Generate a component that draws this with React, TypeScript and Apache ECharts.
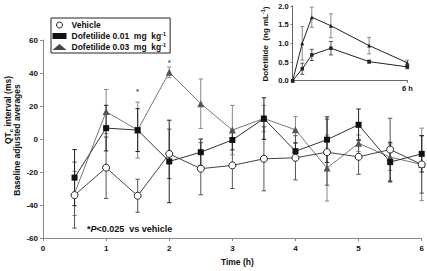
import React, { useEffect, useRef } from 'react';
import * as echarts from 'echarts';

const FONT = '"Liberation Sans", Arial, sans-serif';

// Main chart data (QTc baseline adjusted averages, ms)
const times = [0.5, 1, 1.5, 2, 2.5, 3, 3.5, 4, 4.5, 5, 5.5, 6];
const vehicle = [-34, -17.4, -34.4, -9, -18, -16, -12, -11.4, -8, -10.8, -6.4, -15.4];
const vehicleErr = [20, 18.6, 10, 15, 15.8, 14, 19.4, 13.4, 20, 10.6, 19, 17.4];
const dof001 = [-23.4, 6.6, 5.4, -13.6, -8, -0.6, 12.4, -7.4, -0.4, 8.6, -14, -9];
const dof001Err = [17, 13.8, 13, 25, 8, 6, 12.6, 5, 13.8, 9.6, 12, 11];
const dof003 = [-33, 16.6, 5.4, 40.4, 21.4, 5.4, 12.4, 5.6, -17.6, -2.6, -11, -15.4];
const dof003Err = [13.4, 13.4, 17, 3.2, 15, 15, 8, 8, 20, 5, 8, 22];
const starTimes = [1.5, 2];
const starValues = [30, 47.6];

// Inset data (plasma dofetilide, ng/mL)
const insetTimes = [0, 0.5, 1, 2, 4, 6];
const insetLow = [0, 0.32, 0.69, 0.87, 0.51, 0.37];
const insetLowErr = [0, 0.15, 0.15, 0.18, 0.04, 0.05];
const insetHigh = [0, 1.0, 1.7, 1.47, 0.94, 0.48];
const insetHighErr = [0, 0.45, 0.27, 0.32, 0.22, 0.07];

const pairs = (xs: number[], ys: number[]) => xs.map((x, i) => [x, ys[i]]);
const errData = (xs: number[], ys: number[], es: number[]) =>
  xs.map((x, i) => [x, ys[i] - es[i], ys[i] + es[i]]);

const errRender = (color: string, cap: number) => (params: any, api: any) => {
  const x = api.value(0);
  const lo = api.value(1);
  const hi = api.value(2);
  if (lo === hi) return { type: 'group', children: [] };
  const p1 = api.coord([x, lo]);
  const p2 = api.coord([x, hi]);
  const st = { stroke: color, lineWidth: 1 };
  return {
    type: 'group',
    children: [
      { type: 'line', shape: { x1: p1[0], y1: p1[1], x2: p2[0], y2: p2[1] }, style: st },
      { type: 'line', shape: { x1: p1[0] - cap, y1: p1[1], x2: p1[0] + cap, y2: p1[1] }, style: st },
      { type: 'line', shape: { x1: p2[0] - cap, y1: p2[1], x2: p2[0] + cap, y2: p2[1] }, style: st },
    ],
  };
};

const errSeries = (data: number[][], color: string, cap: number, axis: number) => ({
  type: 'custom',
  xAxisIndex: axis,
  yAxisIndex: axis,
  renderItem: errRender(color, cap),
  encode: { x: 0, y: [1, 2] },
  data,
  z: 1,
  silent: true,
});

const option: any = {
  animation: false,
  backgroundColor: '#fff',
  textStyle: { fontFamily: FONT },
  grid: [
    { left: 43, top: 40, width: 378.7, height: 200 },
    { left: 292.7, top: 6, width: 114.6, height: 74.7 },
  ],
  legend: {
    orient: 'vertical',
    left: 51,
    top: 18,
    padding: [2, 4, 1, 1.5],
    borderColor: '#222',
    borderWidth: 1,
    itemWidth: 14,
    itemHeight: 6,
    itemGap: 1,
    textStyle: {
      fontSize: 8.5,
      fontWeight: 'bold',
      fontFamily: FONT,
      color: '#111',
      lineHeight: 10,
      rich: {
        sup: { fontSize: 5.5, fontWeight: 'bold', fontFamily: FONT, color: '#111', verticalAlign: 'top', lineHeight: 10 },
      },
    },
    data: [
      { name: 'Vehicle', icon: 'circle', itemStyle: { color: '#fff', borderColor: '#222', borderWidth: 1 } },
      { name: 'Dofetilide 0.01', icon: 'rect', itemStyle: { color: '#111', borderWidth: 0 } },
      { name: 'Dofetilide 0.03', icon: 'triangle', itemStyle: { color: '#444', borderWidth: 0 } },
    ],
    formatter: (n: string) => (n === 'Vehicle' ? n : n + '  mg  kg{sup|-1}'),
  },
  xAxis: [
    {
      type: 'value',
      gridIndex: 0,
      min: 0,
      max: 6,
      interval: 1,
      name: 'Time (h)',
      nameLocation: 'middle',
      nameGap: 19,
      nameTextStyle: { fontSize: 8.5, fontWeight: 'bold', color: '#111', fontFamily: FONT, padding: [0, 0, 0, 10] },
      axisLine: { onZero: false, lineStyle: { color: '#888', width: 1 } },
      axisTick: { length: 3, lineStyle: { color: '#888' } },
      axisLabel: { fontSize: 8, fontWeight: 'bold', color: '#111', margin: 6, fontFamily: FONT },
      splitLine: { show: false },
    },
    {
      type: 'value',
      gridIndex: 1,
      min: 0,
      max: 6,
      interval: 6,
      axisLine: { onZero: false, lineStyle: { color: '#666', width: 1 } },
      axisTick: { length: 2, lineStyle: { color: '#666' } },
      axisLabel: {
        fontSize: 7.5,
        fontWeight: 'bold',
        color: '#111',
        margin: 4,
        fontFamily: FONT,
        formatter: (v: number) => (v === 6 ? '6 h' : ''),
      },
      splitLine: { show: false },
    },
  ],
  yAxis: [
    {
      type: 'value',
      gridIndex: 0,
      min: -60,
      max: 60,
      interval: 20,
      axisLine: { show: true, onZero: false, lineStyle: { color: '#888', width: 1 } },
      axisTick: { show: true, length: 3, lineStyle: { color: '#888' } },
      axisLabel: { fontSize: 8, fontWeight: 'bold', color: '#111', margin: 5, fontFamily: FONT },
      splitLine: { show: false },
    },
    {
      type: 'value',
      gridIndex: 1,
      min: 0,
      max: 2,
      interval: 0.5,
      axisLine: { show: true, onZero: false, lineStyle: { color: '#666', width: 1 } },
      axisTick: { show: true, length: 2, lineStyle: { color: '#666' } },
      axisLabel: {
        fontSize: 7.5,
        fontWeight: 'bold',
        color: '#111',
        margin: 4,
        fontFamily: FONT,
        formatter: (v: number) => v.toFixed(1),
      },
      splitLine: { show: false },
    },
  ],
  series: [
    errSeries(errData(times, dof003, dof003Err), '#888', 2.2, 0),
    errSeries(errData(times, vehicle, vehicleErr), '#555', 2.2, 0),
    errSeries(errData(times, dof001, dof001Err), '#222', 2.2, 0),
    {
      name: 'Dofetilide 0.03',
      type: 'line',
      data: pairs(times, dof003),
      symbol: 'triangle',
      symbolSize: 7,
      lineStyle: { color: '#777', width: 1 },
      itemStyle: { color: '#555', borderWidth: 0 },
      z: 3,
    },
    {
      name: 'Dofetilide 0.01',
      type: 'line',
      data: pairs(times, dof001),
      symbol: 'rect',
      symbolSize: 6,
      lineStyle: { color: '#333', width: 1 },
      itemStyle: { color: '#111', borderWidth: 0 },
      z: 4,
    },
    {
      name: 'Vehicle',
      type: 'line',
      data: pairs(times, vehicle),
      symbol: 'circle',
      symbolSize: 7,
      lineStyle: { color: '#444', width: 1 },
      itemStyle: { color: '#fff', borderColor: '#222', borderWidth: 1 },
      z: 5,
    },
    {
      type: 'scatter',
      data: pairs(starTimes, starValues),
      symbolSize: 0,
      label: {
        show: true,
        position: 'inside',
        formatter: '*',
        fontSize: 8,
        fontWeight: 'bold',
        color: '#111',
        fontFamily: FONT,
        offset: [0, 2],
      },
      silent: true,
    },
    errSeries(errData(insetTimes, insetHigh, insetHighErr), '#888', 2, 1),
    errSeries(errData(insetTimes, insetLow, insetLowErr), '#555', 2, 1),
    {
      name: 'insetHigh',
      type: 'line',
      xAxisIndex: 1,
      yAxisIndex: 1,
      data: pairs(insetTimes, insetHigh),
      symbol: 'triangle',
      symbolSize: 4,
      showSymbol: true,
      lineStyle: { color: '#222', width: 1 },
      itemStyle: { color: '#222' },
      z: 3,
    },
    {
      name: 'insetLow',
      type: 'line',
      xAxisIndex: 1,
      yAxisIndex: 1,
      data: pairs(insetTimes, insetLow),
      symbol: 'rect',
      symbolSize: 3.5,
      lineStyle: { color: '#222', width: 1 },
      itemStyle: { color: '#222' },
      z: 3,
    },
  ],
  graphic: [
    {
      type: 'text',
      x: 8,
      y: 110,
      rotation: Math.PI / 2,
      style: {
        text: 'QT{sub|c} interval (ms)',
        font: `bold 8.5px ${FONT}`,
        fill: '#111',
        align: 'center',
        verticalAlign: 'middle',
        rich: {
          sub: { fontSize: 6, fontWeight: 'bold', fontFamily: FONT, fill: '#111', verticalAlign: 'bottom', lineHeight: 11 },
        },
      },
    },
    {
      type: 'text',
      x: 16.5,
      y: 140,
      rotation: Math.PI / 2,
      style: {
        text: 'Baseline adjusted averages',
        font: `bold 8.5px ${FONT}`,
        fill: '#111',
        align: 'center',
        verticalAlign: 'middle',
      },
    },
    {
      type: 'text',
      x: 265,
      y: 44,
      rotation: Math.PI / 2,
      style: {
        text: 'Dofetilide  (ng mL{sup|-1})',
        font: `bold 8px ${FONT}`,
        fill: '#111',
        align: 'center',
        verticalAlign: 'middle',
        rich: {
          sup: { fontSize: 5.5, fontWeight: 'bold', fontFamily: FONT, fill: '#111', verticalAlign: 'top', lineHeight: 10 },
        },
      },
    },
    {
      type: 'text',
      x: 87,
      y: 229,
      style: {
        text: '*{it|P}<0.025  vs vehicle',
        font: `bold 9px ${FONT}`,
        fill: '#111',
        align: 'left',
        verticalAlign: 'middle',
        rich: {
          it: { fontSize: 9, fontWeight: 'bold', fontStyle: 'italic', fontFamily: FONT, fill: '#111' },
        },
      },
    },
  ],
};

export default function App() {
  const ref = useRef<HTMLDivElement>(null);
  useEffect(() => {
    const chart = echarts.init(ref.current!, null, { renderer: 'svg' });
    chart.setOption(option);
    return () => chart.dispose();
  }, []);
  return (
    <div
      ref={ref}
      style={{ position: 'fixed', left: 0, top: 0, width: 427, height: 271, background: '#fff' }}
    />
  );
}
